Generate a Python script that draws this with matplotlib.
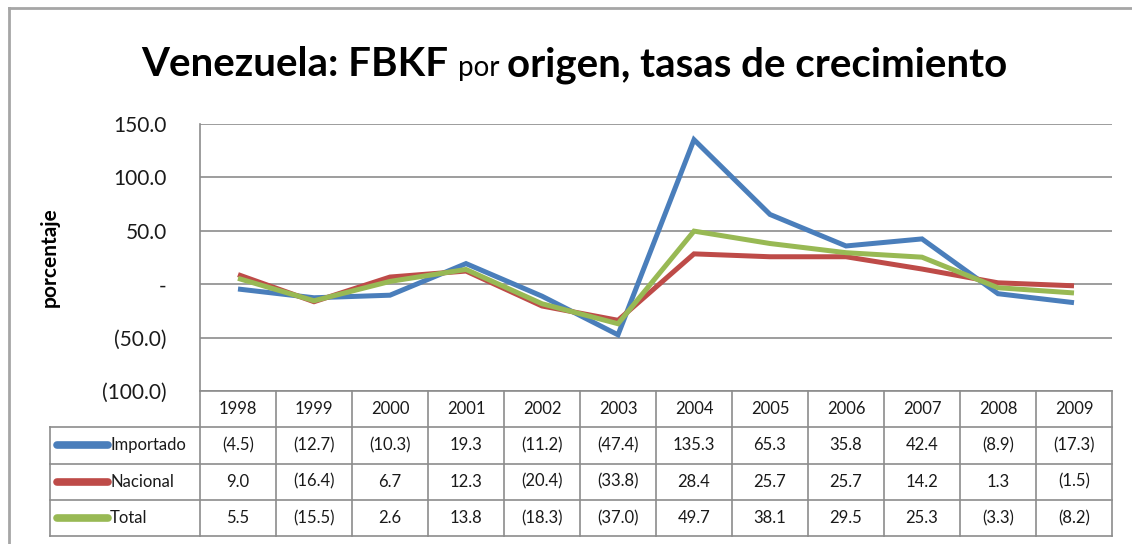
import matplotlib
matplotlib.use("Agg")
import matplotlib.pyplot as plt
from matplotlib.ticker import FuncFormatter
from matplotlib.lines import Line2D

plt.rcParams['font.family'] = ['Lato', 'DejaVu Sans']

# data
years = ['1998', '1999', '2000', '2001', '2002', '2003',
         '2004', '2005', '2006', '2007', '2008', '2009']
importado = [-4.5, -12.7, -10.3, 19.3, -11.2, -47.4, 135.3, 65.3, 35.8, 42.4, -8.9, -17.3]
nacional = [9.0, -16.4, 6.7, 12.3, -20.4, -33.8, 28.4, 25.7, 25.7, 14.2, 1.3, -1.5]
total = [5.5, -15.5, 2.6, 13.8, -18.3, -37.0, 49.7, 38.1, 29.5, 25.3, -3.3, -8.2]
series_names = ['Importado', 'Nacional', 'Total']
series_vals = [importado, nacional, total]
colors = ['#4A7EBB', '#BE4B48', '#98B954']

W, H = 1132, 544
fig = plt.figure(figsize=(W / 100, H / 100), dpi=100)

def fmt(v):
    if abs(v) < 1e-9:
        return '-'
    if v < 0:
        return '(%.1f)' % abs(v)
    return '%.1f' % v

# plot area in pixel terms
left, right, top, bottom = 200, 1112, 124, 391
ax = fig.add_axes([left / W, 1 - bottom / H, (right - left) / W, (bottom - top) / H])
x = list(range(len(years)))
for vals, c in zip(series_vals, colors):
    ax.plot(x, vals, color=c, lw=3.6, solid_joinstyle='miter', solid_capstyle='butt')
ax.set_xlim(-0.5, len(years) - 0.5)
ax.set_ylim(-100, 150)
ax.set_yticks([-100, -50, 0, 50, 100, 150])
ax.yaxis.set_major_formatter(FuncFormatter(lambda v, p: fmt(v)))
ax.grid(axis='y', color='#8c8c8c', lw=1.2)
ax.set_axisbelow(True)
ax.set_xticks([])
for s in ['top', 'right', 'bottom']:
    ax.spines[s].set_visible(False)
ax.spines['left'].set_color('#8c8c8c')
ax.spines['left'].set_linewidth(1.2)
ax.tick_params(axis='y', length=0, pad=24, labelsize=15, labelcolor='#1a1a1a')
ax.set_ylabel('porcentaje', fontsize=15, fontweight='bold')
ax.yaxis.set_label_coords(-0.154, 0.5)

# data table under the plot
tleft, tbottom = 50, 536
tax = fig.add_axes([tleft / W, 1 - tbottom / H, (right - tleft) / W, (tbottom - bottom) / H])
colw = (right - left) / len(years)
lab_w = (left - tleft) / colw
tax.set_xlim(-0.5 - lab_w, len(years) - 0.5)
tax.set_ylim(4, 0)
tax.axis('off')
gc = '#8c8c8c'
# horizontal lines
tax.plot([-0.5, len(years) - 0.5], [0, 0], color=gc, lw=1.2, clip_on=False)
for r in [1, 2, 3, 4]:
    tax.plot([-0.5 - lab_w, len(years) - 0.5], [r, r], color=gc, lw=1.2, clip_on=False)
# vertical lines
for i in range(len(years) + 1):
    tax.plot([i - 0.5, i - 0.5], [0, 4], color=gc, lw=1.2, clip_on=False)
tax.plot([-0.5 - lab_w, -0.5 - lab_w], [1, 4], color=gc, lw=1.2, clip_on=False)

for i, yr in enumerate(years):
    tax.text(i, 0.5, yr, ha='center', va='center', fontsize=12, color='#1a1a1a')
for r, (name, vals, c) in enumerate(zip(series_names, series_vals, colors)):
    yy = r + 1.5
    tax.add_line(Line2D([-0.5 - lab_w + 0.09, -0.5 - lab_w + 0.76], [yy, yy], color=c,
                        lw=5.5, solid_capstyle='round', clip_on=False))
    tax.text(-0.5 - lab_w + 0.79, yy, name, ha='left', va='center', fontsize=12, color='#1a1a1a')
    for i, v in enumerate(vals):
        tax.text(i, yy, fmt(v), ha='center', va='center', fontsize=12, color='#1a1a1a')

# outer frame (top and left)
fig.add_artist(Line2D([9 / W, 1], [1 - 8 / H, 1 - 8 / H], color='#a6a6a6', lw=2))
fig.add_artist(Line2D([9 / W, 9 / W], [0, 1 - 8 / H], color='#a6a6a6', lw=2))

# title with smaller "por"
parts = [('Venezuela: FBKF ', 29, 'bold'), ('por ', 20, 'normal'),
         ('origen, tasas de crecimiento', 29, 'bold')]
fig.canvas.draw()
r = fig.canvas.get_renderer()
texts = []
for s, fs, fw in parts:
    t = fig.text(0, 1 - 76 / H, s, fontsize=fs, fontweight=fw, ha='left', va='baseline')
    texts.append(t)
widths = [t.get_window_extent(r).width for t in texts]
xpos = 574 - sum(widths) / 2
for t, w in zip(texts, widths):
    t.set_x(xpos / W)
    xpos += w

fig.savefig('out.png', dpi=100)
